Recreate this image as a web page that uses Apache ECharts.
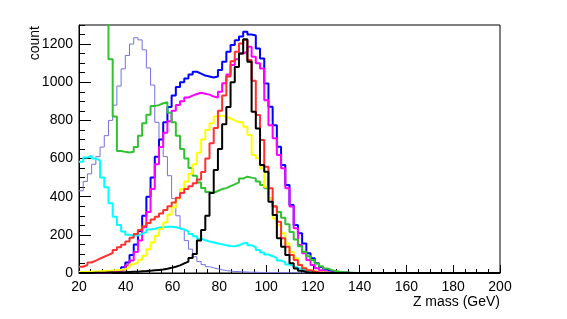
<!DOCTYPE html>
<html>
<head>
<meta charset="utf-8">
<script src="https://cdn.jsdelivr.net/npm/echarts@6/dist/echarts.min.js"></script>
<style>html,body{margin:0;padding:0;background:#fff;}#chart{width:567px;height:319px;}</style>
</head>
<body>
<div id="chart"></div>
<script>
// Histogram binning: 100 bins from 20 to 200 GeV
const xMin = 20, xMax = 200, binWidth = 1.8;
const xTickLabels = [20, 40, 60, 80, 100, 120, 140, 160, 180, 200];
const yTickLabels = [0, 200, 400, 600, 800, 1000, 1200];

const hLightBlue = [431,480,520,570,610,660,720,800,880,980,1070,1140,1200,1233,1222,1170,1075,985,790,700,
  610,510,390,300,230,170,125,85,60,44,33,27,22,17,13,10,8,7,6,5,
  4,4,3,3,2,2,2,1,1,1,1,0,0,0,0,0,0,0,0,0,
  0,0,0,0,0,0,0,0,0,0,0,0,0,0,0,0,0,0,0,0,
  0,0,0,0,0,0,0,0,0,0,0,0,0,0,0,0,0,0,0,0];
const hBlue = [0,0,0,1,1,2,3,5,8,15,30,55,95,150,220,300,400,500,610,700,
  790,870,930,975,1000,1020,1040,1055,1045,1035,1030,1025,1030,1064,1107,1160,1195,1220,1240,1265,
  1250,1245,1177,1125,994,872,775,662,566,461,356,252,208,155,103,77,51,32,18,10,
  6,3,2,1,0,0,0,0,0,0,0,0,0,0,0,0,0,0,0,0,
  0,0,0,0,0,0,0,0,0,0,0,0,0,0,0,0,0,0,0,0];
const hMagenta = [0,0,0,1,1,2,3,4,6,10,20,40,65,110,170,240,320,440,570,660,
  735,795,850,880,900,920,930,938,945,940,935,925,920,950,995,1040,1090,1120,1150,1160,
  1186,1134,1099,1072,906,775,706,618,549,444,348,234,147,103,68,42,25,14,7,3,
  1,0,0,0,0,0,0,0,0,0,0,0,0,0,0,0,0,0,0,0,
  0,0,0,0,0,0,0,0,0,0,0,0,0,0,0,0,0,0,0,0];
const hGreen = [3000,2600,2300,2000,1750,1550,1380,1120,820,640,635,632,635,660,720,785,830,875,880,890,
  895,840,790,720,650,600,550,510,475,445,425,420,430,440,445,455,465,475,495,505,
  500,496,479,461,444,391,350,320,290,255,215,175,140,112,88,68,50,35,24,16,
  10,6,4,2,1,0,0,0,0,0,0,0,0,0,0,0,0,0,0,0,
  0,0,0,0,0,0,0,0,0,0,0,0,0,0,0,0,0,0,0,0];
const hCyan = [583,605,615,600,590,500,450,365,295,252,217,200,195,197,205,215,228,232,238,240,
  242,242,240,235,228,218,205,192,180,172,165,160,155,150,145,142,140,145,155,158,
  145,135,120,108,97,88,78,66,56,45,36,27,20,14,9,6,3,2,1,0,
  0,0,0,0,0,0,0,0,0,0,0,0,0,0,0,0,0,0,0,0,
  0,0,0,0,0,0,0,0,0,0,0,0,0,0,0,0,0,0,0,0];
const hYellow = [5,6,7,8,9,10,12,13,15,17,20,30,45,55,70,90,125,160,195,230,
  265,305,345,390,440,480,520,570,630,700,750,785,820,825,820,810,800,790,790,767,
  723,618,601,549,452,391,286,252,208,155,112,77,45,28,16,9,5,2,1,0,
  0,0,0,0,0,0,0,0,0,0,0,0,0,0,0,0,0,0,0,0,
  0,0,0,0,0,0,0,0,0,0,0,0,0,0,0,0,0,0,0,0];
const hRed = [33,42,55,65,75,85,95,105,120,135,148,165,185,205,225,245,262,280,295,312,
  330,350,370,395,420,440,455,470,490,530,600,680,760,850,930,1030,1110,1160,1203,1221,
  1116,1008,828,697,557,444,348,269,182,138,94,68,42,25,14,8,4,2,1,0,
  0,0,0,0,0,0,0,0,0,0,0,0,0,0,0,0,0,0,0,0,
  0,0,0,0,0,0,0,0,0,0,0,0,0,0,0,0,0,0,0,0];
const hBlack = [0,0,0,1,1,1,2,2,3,3,4,5,6,7,9,10,12,14,16,18,
  22,27,33,40,50,60,78,100,170,225,300,420,540,650,780,870,1000,1080,1150,1225,
  1107,845,758,566,531,374,304,182,138,94,51,24,12,5,2,1,0,0,0,0,
  0,0,0,0,0,0,0,0,0,0,0,0,0,0,0,0,0,0,0,0,
  0,0,0,0,0,0,0,0,0,0,0,0,0,0,0,0,0,0,0,0];

function histData(vals) {
  const d = vals.map((v, i) => [xMin + i * binWidth, v]);
  d.push([xMin + vals.length * binWidth, vals[vals.length - 1]]);
  return d;
}
function hist(name, vals, color, width) {
  return {
    name: name, type: 'line', step: 'end', symbol: 'none', clip: true,
    xAxisIndex: 0, yAxisIndex: 0,
    data: histData(vals),
    lineStyle: { color: color, width: width },
    itemStyle: { color: color },
    emphasis: { disabled: true }
  };
}

const FONT = '"Liberation Sans", Arial, Helvetica, sans-serif';
const chart = echarts.init(document.getElementById('chart'), null, { renderer: 'canvas' });
chart.setOption({
  animation: false,
  backgroundColor: '#ffffff',
  grid: { left: 79, top: 25, width: 421, height: 248, show: true, borderColor: '#000', borderWidth: 1, backgroundColor: 'transparent' },
  xAxis: {
    type: 'value', min: xMin, max: xMax, interval: 20,
    axisLine: { show: true, lineStyle: { color: '#000', width: 1 } },
    axisTick: { show: true, inside: true, length: 8, lineStyle: { color: '#000' } },
    minorTick: { show: true, splitNumber: 4, length: 4, lineStyle: { color: '#000' } },
    splitLine: { show: false },
    axisLabel: { color: '#000', fontSize: 14, fontFamily: FONT, margin: 7,
      formatter: v => (xTickLabels.indexOf(v) >= 0 ? String(v) : '') }
  },
  yAxis: [{
    type: 'value', min: 0, max: 1300, interval: 200,
    axisLine: { show: true, lineStyle: { color: '#000', width: 1 } },
    axisTick: { show: true, inside: true, length: 12, lineStyle: { color: '#000' } },
    splitLine: { show: false },
    axisLabel: { color: '#000', fontSize: 14, fontFamily: FONT, margin: 6, showMaxLabel: false,
      formatter: v => (yTickLabels.indexOf(v) >= 0 ? String(v) : '') }
  }, {
    type: 'value', min: 0, max: 1300, interval: 50, position: 'left',
    axisLine: { show: false },
    axisTick: { show: true, inside: true, length: 6, lineStyle: { color: '#000' } },
    splitLine: { show: false },
    axisLabel: { show: false }
  }],
  graphic: [
    { type: 'text', x: 35, y: 26, rotation: Math.PI / 2,
      style: { text: 'count', fill: '#000', font: '14px ' + FONT, textAlign: 'right', textVerticalAlign: 'middle' } },
    { type: 'text', x: 500, y: 302,
      style: { text: 'Z mass (GeV)', fill: '#000', font: '14px ' + FONT, textAlign: 'right', textVerticalAlign: 'middle' } }
  ],
  series: [
    hist('light blue', hLightBlue, '#7272e0', 1),
    hist('blue', hBlue, '#0000ff', 2),
    hist('magenta', hMagenta, '#ff00ff', 2),
    hist('green', hGreen, '#33c033', 2),
    hist('cyan', hCyan, '#00ffff', 2),
    hist('yellow', hYellow, '#ffff00', 2),
    hist('red', hRed, '#ff3030', 2),
    hist('black', hBlack, '#000000', 2)
  ]
});
</script>
</body>
</html>
